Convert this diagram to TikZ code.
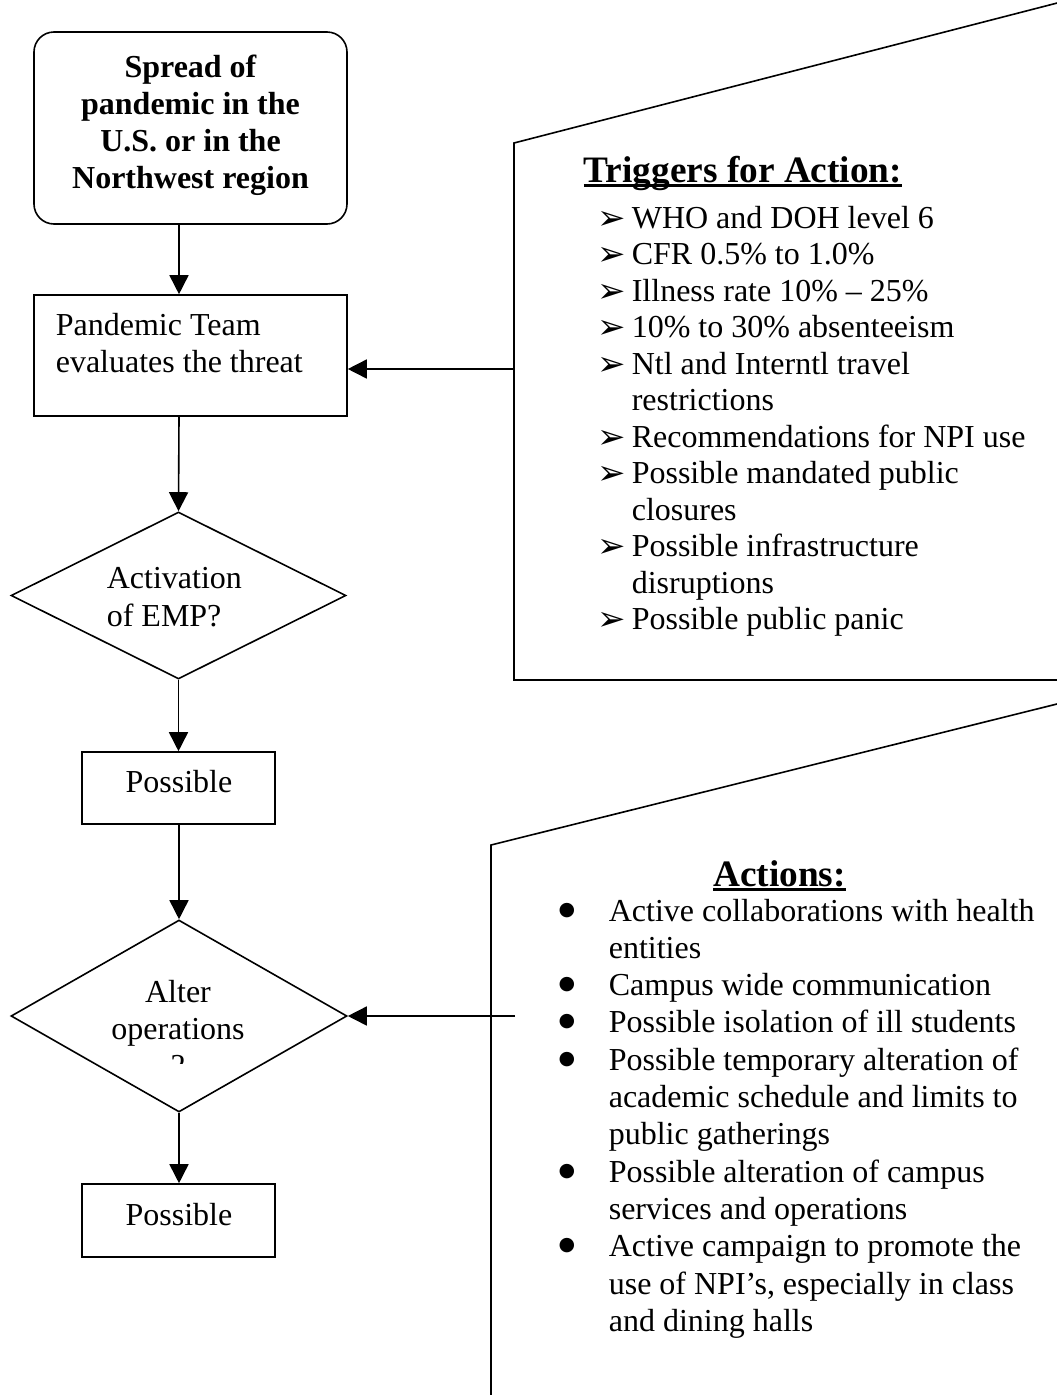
\documentclass[tikz,border=0pt]{standalone}
\usepackage{fontspec}
\setmainfont{Liberation Serif}
\newfontfamily\symfont{DejaVu Sans}
\usetikzlibrary{shapes.geometric,arrows.meta}
\newcommand{\myul}[1]{\setbox0\hbox{#1}\rlap{\rule[-5pt]{\wd0}{2.6pt}}\box0}
\begin{document}
\begin{tikzpicture}[x=1pt,y=-1pt,line width=1.6pt,
  box/.style={draw,rectangle,inner sep=0pt},
  dia/.style={draw,diamond,inner sep=0pt},
  arr/.style={-{Triangle[length=19pt,width=19pt]}},
  txt/.style={inner sep=0pt,anchor=base west,font=\fontsize{32}{37}\selectfont},
  ctxt/.style={txt,anchor=base},
  btxt/.style={ctxt,font=\fontsize{32}{37}\selectfont\bfseries},
  ttl/.style={inner sep=0pt,anchor=base west,font=\fontsize{37.3}{43}\selectfont\bfseries},
  arb/.style={inner sep=0pt,anchor=base west,font=\fontsize{34}{36}\symfont},
  dot/.style={inner sep=0pt,anchor=base,font=\fontsize{19}{20}\symfont},
]
\useasboundingbox (0,0) rectangle (1057,1395);

% flowchart shapes
\node[box,rounded corners=20pt,minimum width=313pt,minimum height=192pt] (start) at (190.5,128) {};
\node[box,minimum width=313pt,minimum height=121pt] (team) at (190.5,355.5) {};
\node[dia,minimum width=335pt,minimum height=167pt] (d1) at (178.5,595.5) {};
\node[box,minimum width=193pt,minimum height=72pt] (p1) at (178.5,788) {};
\node[dia,minimum width=336pt,minimum height=192pt] (d2) at (179,1016) {};
\node[box,minimum width=193pt,minimum height=73pt] (p2) at (178.5,1220.5) {};

% texts in flowchart
\node[btxt] (s1) at (190.5,77) {Spread of};
\node[btxt] (s2) at (190.5,114) {pandemic in the};
\node[btxt] (s3) at (190.5,151) {U.S. or in the};
\node[btxt] (s4) at (190.5,188) {Northwest region};
\node[txt] (tm1) at (55,335) {Pandemic Team};
\node[txt] (tm2) at (55,372) {evaluates the threat};
\node[txt] (a1) at (106,588) {Activation};
\node[txt] (a2) at (106,626) {of EMP?};
\node[ctxt] (pt1) at (179,792) {Possible};
\node[ctxt] (al1) at (178,1002) {Alter};
\node[ctxt] (al2) at (178,1039) {operations};
\begin{scope}
  \clip (120,1040) rectangle (240,1063);
  \node[ctxt] (al3) at (178,1076) {?};
\end{scope}
\node[ctxt] (pt2) at (179,1225) {Possible};

% callout outlines
\coordinate (tA) at (514,143);
\coordinate (tB) at (1065,1);
\coordinate (tC) at (1065,680);
\coordinate (tD) at (514,680);
\draw (tB) -- (tA) -- (tD) -- (tC);
\coordinate (aA) at (491,845);
\coordinate (aB) at (1065,702);
\coordinate (aC) at (491,1400);
\draw (aB) -- (aA) -- (aC);

% connectors
\coordinate (cx) at (179,0);
\draw[arr] (start.south -| cx) -- (team.north -| cx);
\draw[arr] (team.south -| cx) -- (d1.north);
\draw[arr] (d1.south) -- (p1.north -| d1.south);
\draw[arr] (p1.south -| cx) -- (d2.north);
\draw[arr] (d2.south) -- (p2.north -| d2.south);
\coordinate (trg) at (514,369);
\draw[arr] (trg) -- (team.east |- trg);
\coordinate (act) at (515,1016);
\draw[arr] (act) -- (d2.east);

% triggers
\node[ttl] (tt) at (583,182) {\myul{Triggers for Action:}};
\node[arb] (b1) at (597,229) {➢};
\node[txt] (l1) at (631,228) {WHO and DOH level 6};
\node[arb] (b2) at (597,265.5) {➢};
\node[txt] (l2) at (631,264.5) {CFR 0.5\% to 1.0\%};
\node[arb] (b3) at (597,302) {➢};
\node[txt] (l3) at (631,301) {Illness rate 10\% – 25\%};
\node[arb] (b4) at (597,338.5) {➢};
\node[txt] (l4) at (631,337.5) {10\% to 30\% absenteeism};
\node[arb] (b5) at (597,375) {➢};
\node[txt] (l5) at (631,374) {Ntl and Interntl travel};
\node[txt] (l6) at (631,410.5) {restrictions};
\node[arb] (b7) at (597,448) {➢};
\node[txt] (l7) at (631,447) {Recommendations for NPI use};
\node[arb] (b8) at (597,484.5) {➢};
\node[txt] (l8) at (631,483.5) {Possible mandated public};
\node[txt] (l9) at (631,520) {closures};
\node[arb] (b10) at (597,557.5) {➢};
\node[txt] (l10) at (631,556.5) {Possible infrastructure};
\node[txt] (l11) at (631,593) {disruptions};
\node[arb] (b12) at (597,630.5) {➢};
\node[txt] (l12) at (631,629.5) {Possible public panic};

% actions
\node[ttl,anchor=base] (at) at (779.5,886) {\myul{Actions:}};
\node[dot] (c1) at (567,915) {●};
\node[txt] (m1) at (608,921) {Active collaborations with health};
\node[txt] (m2) at (608,958.3) {entities};
\node[dot] (c3) at (567,989.6) {●};
\node[txt] (m3) at (608,995.6) {Campus wide communication};
\node[dot] (c4) at (567,1026.9) {●};
\node[txt] (m4) at (608,1032.9) {Possible isolation of ill students};
\node[dot] (c5) at (567,1064.2) {●};
\node[txt] (m5) at (608,1070.2) {Possible temporary alteration of};
\node[txt] (m6) at (608,1107.5) {academic schedule and limits to};
\node[txt] (m7) at (608,1144.8) {public gatherings};
\node[dot] (c8) at (567,1176.1) {●};
\node[txt] (m8) at (608,1182.1) {Possible alteration of campus};
\node[txt] (m9) at (608,1219.4) {services and operations};
\node[dot] (c10) at (567,1250.7) {●};
\node[txt] (m10) at (608,1256.7) {Active campaign to promote the};
\node[txt] (m11) at (608,1294) {use of NPI’s, especially in class};
\node[txt] (m12) at (608,1331.3) {and dining halls};
\end{tikzpicture}
\end{document}
